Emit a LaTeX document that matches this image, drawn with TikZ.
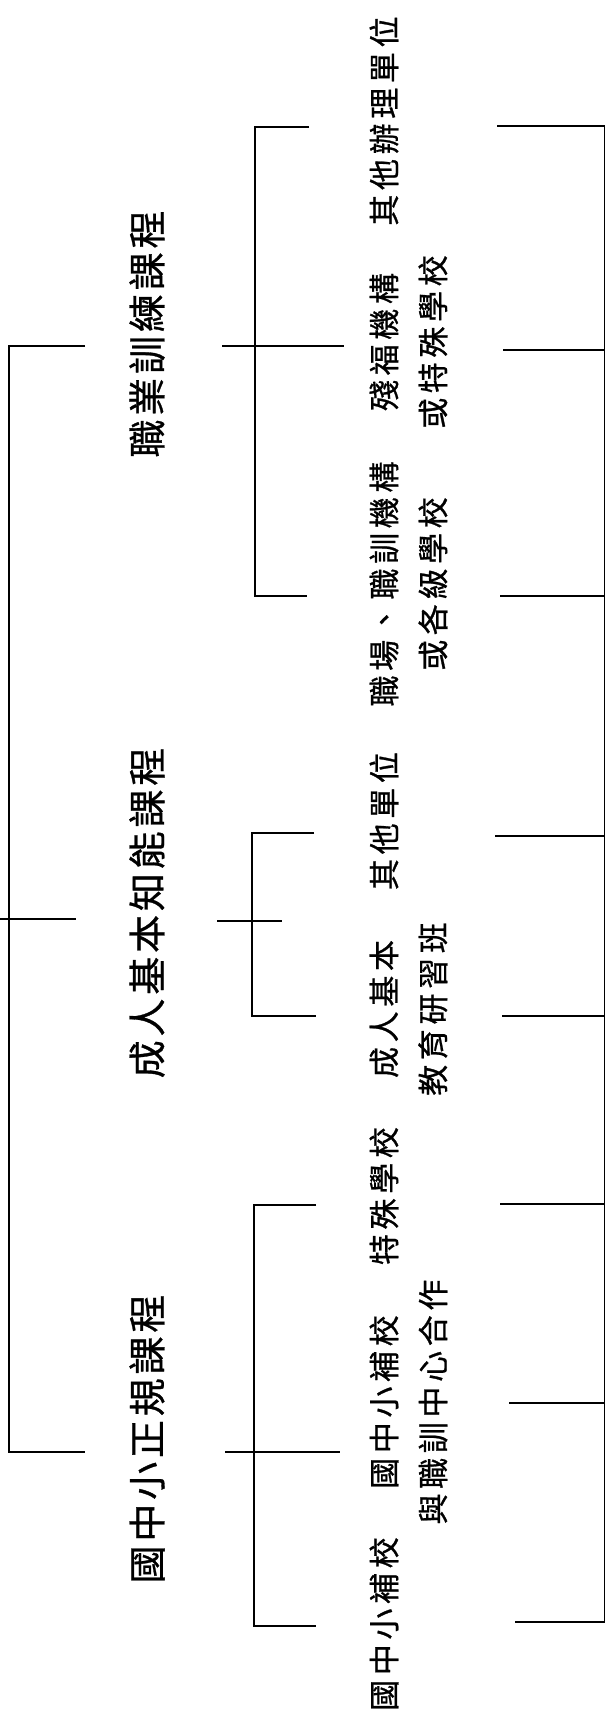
\documentclass[tikz,border=0pt]{standalone}
\usepackage{fontspec}
\newfontfamily\cjkA[LetterSpace=10,FakeBold=0.8]{Noto Sans CJK TC}
\newfontfamily\cjkB[LetterSpace=15,FakeBold=0.8]{Noto Sans CJK TC}
\begin{document}
\begin{tikzpicture}[x=1pt,y=-1pt,line width=1.6pt,
  lvA/.style={rotate=90,inner sep=0pt,font=\cjkA\fontsize{38}{42}\selectfont},
  lvB/.style={rotate=90,inner sep=0pt,align=center,font=\cjkB\fontsize{31}{49}\selectfont},
  brk/.style={line width=1.6pt}]
\useasboundingbox (0,0) rectangle (606,1720);
% level 1 texts
\node[lvA] (t1) at (147,334) {職業訓練課程};
\node[lvA] (t2) at (147,913) {成人基本知能課程};
\node[lvA] (t3) at (147,1439) {國中小正規課程};
% level 2 texts
\node[lvB] (c1) at (384,121) {其他辦理單位};
\node[lvB] (c2) at (408.5,342) {殘福機構\\或特殊學校};
\node[lvB] (c3) at (408.5,584) {職場、職訓機構\\或各級學校};
\node[lvB] (c4) at (384,821) {其他單位};
\node[lvB] (c5) at (408.5,1009) {成人基本\\教育研習班};
\node[lvB] (c6) at (384,1196) {特殊學校};
\node[lvB] (c7) at (408.5,1402) {國中小補校\\與職訓中心合作};
\node[lvB] (c8) at (384,1624) {國中小補校};
% root bracket
\coordinate (R0) at (0,919);   \coordinate (R0e) at (76,919);
\coordinate (Rt) at (9,346);   \coordinate (Rte) at (85,346);
\coordinate (Rb) at (9,1452);  \coordinate (Rbe) at (85,1452);
\draw[brk] (Rte) -- (Rt) -- (Rb) -- (Rbe);
\draw[brk] (R0) -- (R0e);
% bracket A
\coordinate (At) at (255,127);  \coordinate (Ate) at (309,127);
\coordinate (Ab) at (255,596);  \coordinate (Abe) at (307,596);
\coordinate (Ami) at (222,346); \coordinate (Amo) at (344,346);
\draw[brk] (Ate) -- (At) -- (Ab) -- (Abe);
\draw[brk] (Ami) -- (Amo);
% bracket B
\coordinate (Bt) at (252,833);  \coordinate (Bte) at (314,833);
\coordinate (Bb) at (252,1016); \coordinate (Bbe) at (316,1016);
\coordinate (Bmi) at (217,921); \coordinate (Bmo) at (282,921);
\draw[brk] (Bte) -- (Bt) -- (Bb) -- (Bbe);
\draw[brk] (Bmi) -- (Bmo);
% bracket C
\coordinate (Ct) at (254,1205);  \coordinate (Cte) at (316,1205);
\coordinate (Cb) at (254,1626);  \coordinate (Cbe) at (316,1626);
\coordinate (Cmi) at (225,1452); \coordinate (Cmo) at (340,1452);
\draw[brk] (Cte) -- (Ct) -- (Cb) -- (Cbe);
\draw[brk] (Cmi) -- (Cmo);
% right bracket
\coordinate (Q1) at (497,126);  \coordinate (P1) at (604.5,126);
\coordinate (Q2) at (503,350);  \coordinate (P2) at (604.5,350);
\coordinate (Q3) at (500,596);  \coordinate (P3) at (604.5,596);
\coordinate (Q4) at (495,836);  \coordinate (P4) at (604.5,836);
\coordinate (Q5) at (502,1016); \coordinate (P5) at (604.5,1016);
\coordinate (Q6) at (500,1204); \coordinate (P6) at (604.5,1204);
\coordinate (Q7) at (509,1403); \coordinate (P7) at (604.5,1403);
\coordinate (Q8) at (515,1622); \coordinate (P8) at (604.5,1622);
\draw[brk] (Q1) -- (P1) -- (P8) -- (Q8);
\foreach \i in {2,...,7} { \draw[brk] (Q\i) -- (P\i); }
\end{tikzpicture}
\end{document}
